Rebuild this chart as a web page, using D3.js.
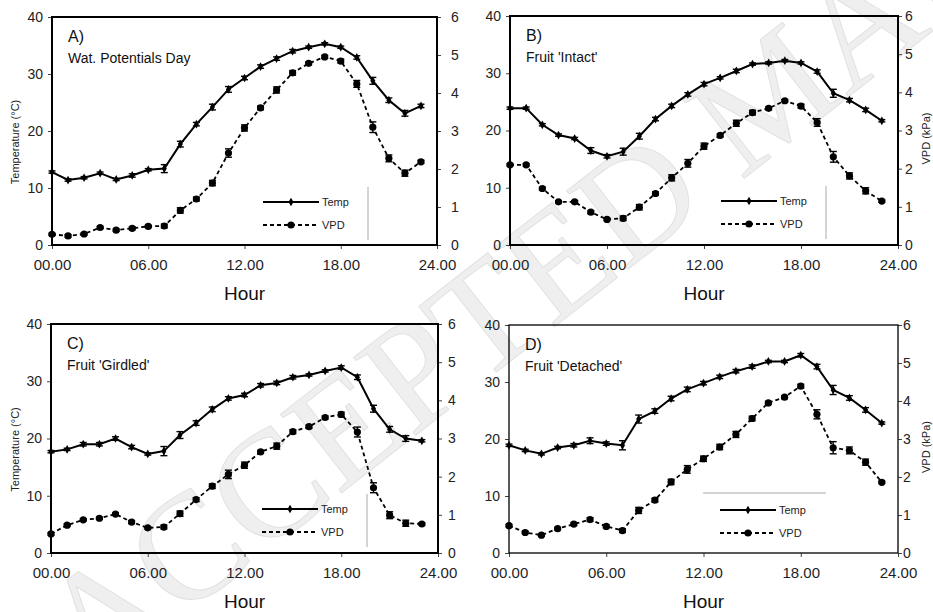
<!DOCTYPE html>
<html>
<head>
<meta charset="utf-8">
<script src="https://cdn.jsdelivr.net/npm/d3@7/dist/d3.min.js"></script>
<style>
  html, body { margin: 0; padding: 0; background: #fff; }
  svg { display: block; font-family: "Liberation Sans", Arial, sans-serif; }
</style>
</head>
<body>
<svg id="chart" width="933" height="612"></svg>
<script>
// Hourly means of air temperature and vapour pressure deficit
const hours = [0, 1, 2, 3, 4, 5, 6, 7, 8, 9, 10, 11, 12, 13, 14, 15, 16, 17, 18, 19, 20, 21, 22, 23];
const hourTicks = [0, 6, 12, 18, 24];
const hourTickLabels = ["00.00", "06.00", "12.00", "18.00", "24.00"];
const tempTicks = [0, 10, 20, 30, 40];
const vpdTicks = [0, 1, 2, 3, 4, 5, 6];

const panelLetters = ["A)", "B)", "C)", "D)"];
const panelTitles = ["Wat. Potentials Day", "Fruit 'Intact'", "Fruit 'Girdled'", "Fruit 'Detached'"];
const seriesNames = ["Temp", "VPD"];

// A) water potentials day
const tempA = [12.8, 11.4, 11.8, 12.6, 11.5, 12.2, 13.2, 13.4, 17.7, 21.2, 24.2, 27.3, 29.3, 31.3, 32.7, 34.0, 34.7, 35.3, 34.7, 32.9, 28.8, 25.4, 23.1, 24.4];
const tempErrA = [0.2, 0.2, 0.2, 0.2, 0.2, 0.3, 0.2, 0.7, 0.5, 0.3, 0.5, 0.5, 0.3, 0.3, 0.3, 0.3, 0.2, 0.2, 0.2, 0.3, 0.6, 0.4, 0.5, 0.3];
const vpdA = [0.28, 0.24, 0.29, 0.46, 0.39, 0.44, 0.49, 0.50, 0.91, 1.21, 1.63, 2.42, 3.08, 3.61, 4.08, 4.53, 4.78, 4.95, 4.84, 4.24, 3.10, 2.28, 1.89, 2.19];
const vpdErrA = [0.03, 0.03, 0.03, 0.03, 0.03, 0.04, 0.03, 0.05, 0.07, 0.05, 0.07, 0.11, 0.08, 0.05, 0.08, 0.06, 0.04, 0.04, 0.05, 0.09, 0.14, 0.09, 0.08, 0.04];

// B) fruit intact
const tempB = [23.9, 23.9, 21.0, 19.2, 18.6, 16.5, 15.5, 16.3, 19.0, 22.0, 24.3, 26.3, 28.1, 29.2, 30.4, 31.6, 31.8, 32.2, 31.8, 30.3, 26.5, 25.3, 23.6, 21.7];
const tempErrB = [0.2, 0.2, 0.2, 0.2, 0.2, 0.5, 0.3, 0.6, 0.5, 0.3, 0.3, 0.3, 0.3, 0.2, 0.3, 0.2, 0.2, 0.2, 0.2, 0.3, 0.7, 0.3, 0.3, 0.2];
const vpdB = [2.10, 2.10, 1.48, 1.13, 1.13, 0.86, 0.67, 0.70, 0.99, 1.35, 1.76, 2.14, 2.59, 2.87, 3.19, 3.47, 3.58, 3.78, 3.64, 3.21, 2.31, 1.81, 1.42, 1.15];
const vpdErrB = [0.03, 0.03, 0.04, 0.03, 0.03, 0.04, 0.03, 0.06, 0.07, 0.04, 0.08, 0.10, 0.08, 0.04, 0.08, 0.06, 0.04, 0.03, 0.05, 0.10, 0.14, 0.08, 0.08, 0.03];

// C) fruit girdled
const tempC = [17.7, 18.1, 19.0, 19.0, 20.0, 18.5, 17.3, 17.8, 20.6, 22.7, 25.1, 27.0, 27.6, 29.3, 29.7, 30.7, 31.1, 31.8, 32.4, 30.7, 25.2, 21.6, 20.0, 19.6];
const tempErrC = [0.2, 0.2, 0.3, 0.3, 0.3, 0.3, 0.2, 0.8, 0.6, 0.4, 0.4, 0.3, 0.3, 0.3, 0.3, 0.3, 0.2, 0.2, 0.3, 0.4, 0.6, 0.5, 0.5, 0.2];
const vpdC = [0.50, 0.73, 0.87, 0.91, 1.02, 0.81, 0.66, 0.68, 1.03, 1.40, 1.75, 2.06, 2.30, 2.65, 2.80, 3.18, 3.31, 3.55, 3.63, 3.17, 1.71, 0.99, 0.78, 0.76];
const vpdErrC = [0.03, 0.03, 0.03, 0.03, 0.03, 0.04, 0.03, 0.05, 0.07, 0.05, 0.06, 0.11, 0.08, 0.04, 0.08, 0.05, 0.04, 0.04, 0.06, 0.13, 0.13, 0.09, 0.08, 0.03];

// D) fruit detached
const tempD = [18.9, 18.0, 17.4, 18.5, 18.9, 19.7, 19.2, 18.9, 23.5, 24.9, 27.1, 28.7, 29.8, 30.9, 31.9, 32.7, 33.6, 33.6, 34.7, 32.7, 28.6, 27.2, 25.1, 22.8];
const tempErrD = [0.2, 0.2, 0.2, 0.2, 0.3, 0.5, 0.3, 0.8, 0.7, 0.4, 0.4, 0.4, 0.3, 0.3, 0.3, 0.3, 0.2, 0.2, 0.3, 0.4, 0.8, 0.4, 0.4, 0.2];
const vpdD = [0.72, 0.54, 0.47, 0.64, 0.76, 0.88, 0.70, 0.59, 1.12, 1.39, 1.87, 2.20, 2.48, 2.79, 3.12, 3.54, 3.95, 4.10, 4.39, 3.65, 2.77, 2.70, 2.39, 1.86];
const vpdErrD = [0.03, 0.03, 0.03, 0.03, 0.04, 0.05, 0.04, 0.05, 0.08, 0.05, 0.07, 0.10, 0.07, 0.07, 0.08, 0.06, 0.04, 0.04, 0.05, 0.12, 0.16, 0.09, 0.08, 0.03];

const tempSeries = [tempA, tempB, tempC, tempD];
const tempErrors = [tempErrA, tempErrB, tempErrC, tempErrD];
const vpdSeries = [vpdA, vpdB, vpdC, vpdD];
const vpdErrors = [vpdErrA, vpdErrB, vpdErrC, vpdErrD];

// Plot-area geometry of each panel (pixels)
const layout = [
  { left: 52,  right: 437, top: 17,  bottom: 245, frame: 2,   rPad: 10, tempTitle: true,  vpdTitle: false, legendEdge: "v" },
  { left: 510, right: 898, top: 16,  bottom: 245, frame: 2,   rPad: 3,  tempTitle: false, vpdTitle: true,  legendEdge: "v" },
  { left: 51,  right: 438, top: 324, bottom: 553, frame: 2,   rPad: 6,  tempTitle: true,  vpdTitle: false, legendEdge: "v" },
  { left: 509, right: 898, top: 325, bottom: 553, frame: 1.3, rPad: 1,  tempTitle: false, vpdTitle: true,  legendEdge: "h" }
];

const svg = d3.select("#chart");

// Diagonal watermark behind everything
svg.append("text")
  .attr("transform", "translate(92,688) rotate(-38)")
  .attr("font-family", "'Liberation Serif', 'DejaVu Serif', serif")
  .attr("font-size", 152)
  .attr("fill", "#efefef")
  .attr("stroke", "#e2e2e2")
  .attr("stroke-width", 1)
  .text("ACCEPTED MANUSCRIPT");

const tickColor = "#1e1e26";
const intFmt = d3.format("d");

layout.forEach((p, i) => {
  const g = svg.append("g");
  const x = d3.scaleLinear().domain([0, 24]).range([p.left, p.right]);
  const yT = d3.scaleLinear().domain([0, 40]).range([p.bottom, p.top]);
  const yV = d3.scaleLinear().domain([0, 6]).range([p.bottom, p.top]);

  // axes
  const ax = g.append("g").attr("transform", `translate(0,${p.bottom})`)
    .call(d3.axisBottom(x).tickValues(hourTicks).tickFormat((d, k) => hourTickLabels[k]).tickSize(4).tickPadding(10));
  ax.selectAll("text").attr("font-size", 15).attr("fill", tickColor).attr("font-family", "'Liberation Sans', Arial, sans-serif");

  const al = g.append("g").attr("transform", `translate(${p.left},0)`)
    .call(d3.axisLeft(yT).tickValues(tempTicks).tickFormat(intFmt).tickSize(4).tickPadding(5));
  al.selectAll("text").attr("font-size", 14).attr("fill", "#222").attr("font-family", "'Liberation Sans', Arial, sans-serif");

  const ar = g.append("g").attr("transform", `translate(${p.right},0)`)
    .call(d3.axisRight(yV).tickValues(vpdTicks).tickFormat(intFmt).tickSize(4).tickPadding(p.rPad));
  ar.selectAll("text").attr("font-size", 14).attr("fill", "#222").attr("font-family", "'Liberation Sans', Arial, sans-serif");

  [ax, al, ar].forEach(a => {
    a.select(".domain").remove();
    a.selectAll("line").attr("stroke", "#444").attr("stroke-width", 1);
  });

  // frame
  g.append("rect")
    .attr("x", p.left).attr("y", p.top)
    .attr("width", p.right - p.left).attr("height", p.bottom - p.top)
    .attr("fill", "none").attr("stroke", "#000").attr("stroke-width", p.frame);

  // axis titles
  g.append("text")
    .attr("x", (p.left + p.right) / 2).attr("y", p.bottom + 55)
    .attr("text-anchor", "middle").attr("font-size", 19).attr("fill", "#111")
    .text("Hour");
  if (p.tempTitle) {
    g.append("text")
      .attr("transform", `translate(19,${(p.top + p.bottom) / 2 + 11}) rotate(-90)`)
      .attr("text-anchor", "middle").attr("font-size", 11).attr("fill", "#222")
      .text("Temperature (°C)");
  }
  if (p.vpdTitle) {
    g.append("text")
      .attr("transform", `translate(930,${(p.top + p.bottom) / 2 + 8}) rotate(-90)`)
      .attr("text-anchor", "middle").attr("font-size", 11).attr("fill", "#222")
      .text("VPD (kPa)");
  }

  // panel labels
  g.append("text").attr("x", p.left + 16).attr("y", p.top + 25)
    .attr("font-size", 16).attr("fill", "#111").text(panelLetters[i]);
  g.append("text").attr("x", p.left + 16).attr("y", p.top + 46)
    .attr("font-size", 14).attr("fill", "#111").text(panelTitles[i]);

  // series
  const temp = tempSeries[i], tErr = tempErrors[i];
  const vpd = vpdSeries[i], vErr = vpdErrors[i];

  const lineT = d3.line().x((d, k) => x(hours[k])).y(d => yT(d));
  const lineV = d3.line().x((d, k) => x(hours[k])).y(d => yV(d));

  g.append("path").datum(vpd).attr("d", lineV)
    .attr("fill", "none").attr("stroke", "#000").attr("stroke-width", 1.8)
    .attr("stroke-dasharray", "4,3");
  g.append("path").datum(temp).attr("d", lineT)
    .attr("fill", "none").attr("stroke", "#000").attr("stroke-width", 2);

  // error bars
  function errorBars(vals, errs, y) {
    const eg = g.append("g").attr("stroke", "#000").attr("stroke-width", 1.4);
    vals.forEach((v, k) => {
      const cx = x(hours[k]);
      const y1 = y(v - errs[k]), y2 = y(v + errs[k]);
      eg.append("line").attr("x1", cx).attr("x2", cx).attr("y1", y1).attr("y2", y2);
      eg.append("line").attr("x1", cx - 3.5).attr("x2", cx + 3.5).attr("y1", y1).attr("y2", y1);
      eg.append("line").attr("x1", cx - 3.5).attr("x2", cx + 3.5).attr("y1", y2).attr("y2", y2);
    });
  }
  errorBars(vpd, vErr, yV);
  errorBars(temp, tErr, yT);

  g.append("g").selectAll("circle").data(vpd).join("circle")
    .attr("cx", (d, k) => x(hours[k])).attr("cy", d => yV(d)).attr("r", 3.6).attr("fill", "#000");
  const diamond = d3.symbol().type(d3.symbolDiamond).size(22);
  g.append("g").selectAll("path").data(temp).join("path")
    .attr("d", diamond)
    .attr("transform", (d, k) => `translate(${x(hours[k])},${yT(d)})`)
    .attr("fill", "#000");

  // legend
  const lx = p.left + 211, ly1 = p.top + 185, ly2 = p.top + 208, lw = 56;
  g.append("line").attr("x1", lx).attr("x2", lx + lw).attr("y1", ly1).attr("y2", ly1)
    .attr("stroke", "#000").attr("stroke-width", 2);
  g.append("path").attr("d", diamond).attr("transform", `translate(${lx + lw / 2},${ly1})`).attr("fill", "#000");
  g.append("line").attr("x1", lx).attr("x2", lx + lw).attr("y1", ly2).attr("y2", ly2)
    .attr("stroke", "#000").attr("stroke-width", 1.8).attr("stroke-dasharray", "4,3");
  g.append("circle").attr("cx", lx + lw / 2).attr("cy", ly2).attr("r", 3.6).attr("fill", "#000");
  g.append("text").attr("x", lx + lw + 3).attr("y", ly1 + 4).attr("font-size", 11).attr("fill", "#222").text(seriesNames[0]);
  g.append("text").attr("x", lx + lw + 3).attr("y", ly2 + 4).attr("font-size", 11).attr("fill", "#222").text(seriesNames[1]);

  // remaining edge of the legend box
  if (p.legendEdge === "v") {
    g.append("line").attr("x1", p.left + 316).attr("x2", p.left + 316)
      .attr("y1", p.top + 170).attr("y2", p.top + 223)
      .attr("stroke", "#aaa").attr("stroke-width", 1);
  } else {
    g.append("line").attr("x1", p.left + 194).attr("x2", p.left + 317)
      .attr("y1", p.top + 168).attr("y2", p.top + 168)
      .attr("stroke", "#aaa").attr("stroke-width", 1);
  }
});
</script>
</body>
</html>
